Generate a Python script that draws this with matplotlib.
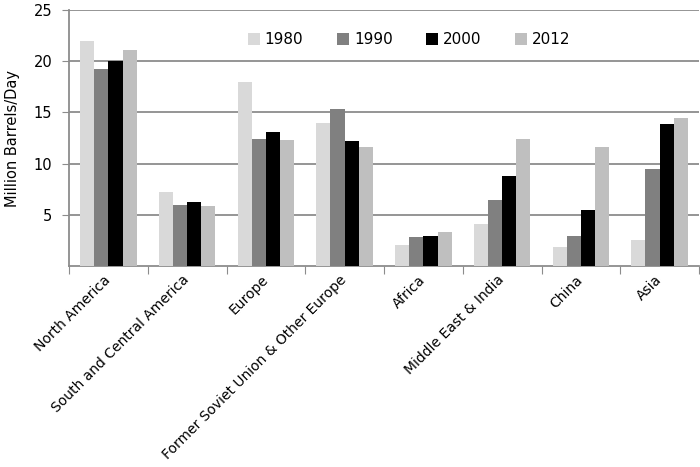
import matplotlib
matplotlib.use('Agg')
import matplotlib.pyplot as plt
import matplotlib.transforms as mtransforms
import numpy as np

regions = ['North America', 'South and Central America', 'Europe',
           'Former Soviet Union & Other Europe', 'Africa',
           'Middle East & India', 'China', 'Asia']
years = ['1980', '1990', '2000', '2012']

v1980 = [22.0, 7.25, 18.0, 13.95, 2.1, 4.1, 1.85, 2.55]
v1990 = [19.2, 6.0, 12.4, 15.35, 2.85, 6.45, 2.9, 9.45]
v2000 = [20.0, 6.3, 13.05, 12.2, 2.9, 8.8, 5.45, 13.9]
v2012 = [21.1, 5.9, 12.3, 11.6, 3.35, 12.4, 11.6, 14.5]

colors = ['#d9d9d9', '#808080', '#000000', '#bfbfbf']

fig = plt.figure(figsize=(7, 4.67), dpi=100)
ax = fig.add_axes([0.0986, 0.4304, 0.9, 0.548])

x = np.arange(len(regions))
w = 0.18
series = [v1980, v1990, v2000, v2012]
for i, (vals, c, yr) in enumerate(zip(series, colors, years)):
    ax.bar(x + (i - 1.5) * w, vals, w, color=c, label=yr, zorder=3)

ax.set_xlim(-0.5, len(regions) - 0.5)
ax.set_ylim(0, 25)
ax.set_yticks([5, 10, 15, 20, 25])
ax.yaxis.grid(True, color='#8c8c8c', linewidth=1.3, zorder=0)
ax.tick_params(axis='y', length=5, color='#8c8c8c', labelsize=10.5, pad=7)

# tick marks between categories, labels at centres
ax.set_xticks(np.arange(len(regions) + 1) - 0.5)
ax.set_xticklabels([])
ax.tick_params(axis='x', which='major', length=6, color='#8c8c8c')
ax.set_xticks(x, minor=True)
ax.set_xticklabels(regions, minor=True, rotation=45, ha='right', fontsize=10)
ax.tick_params(axis='x', which='minor', length=0, pad=5)
shift = mtransforms.ScaledTranslation(5 / 100, 0, fig.dpi_scale_trans)
for lab in ax.get_xticklabels(minor=True):
    lab.set_transform(lab.get_transform() + shift)

for s in ['top', 'right']:
    ax.spines[s].set_visible(False)
for s in ['left', 'bottom']:
    ax.spines[s].set_color('#8c8c8c')
    ax.spines[s].set_linewidth(1.3)

ax.set_ylabel('Million Barrels/Day', fontsize=10.5, labelpad=10)

ax.legend(loc='center', bbox_to_anchor=(0.54, 0.885), ncol=4, frameon=False,
          fontsize=11, handlelength=0.8, handleheight=0.8, columnspacing=2.2,
          handletextpad=0.3)

fig.savefig('out.png', dpi=100)
